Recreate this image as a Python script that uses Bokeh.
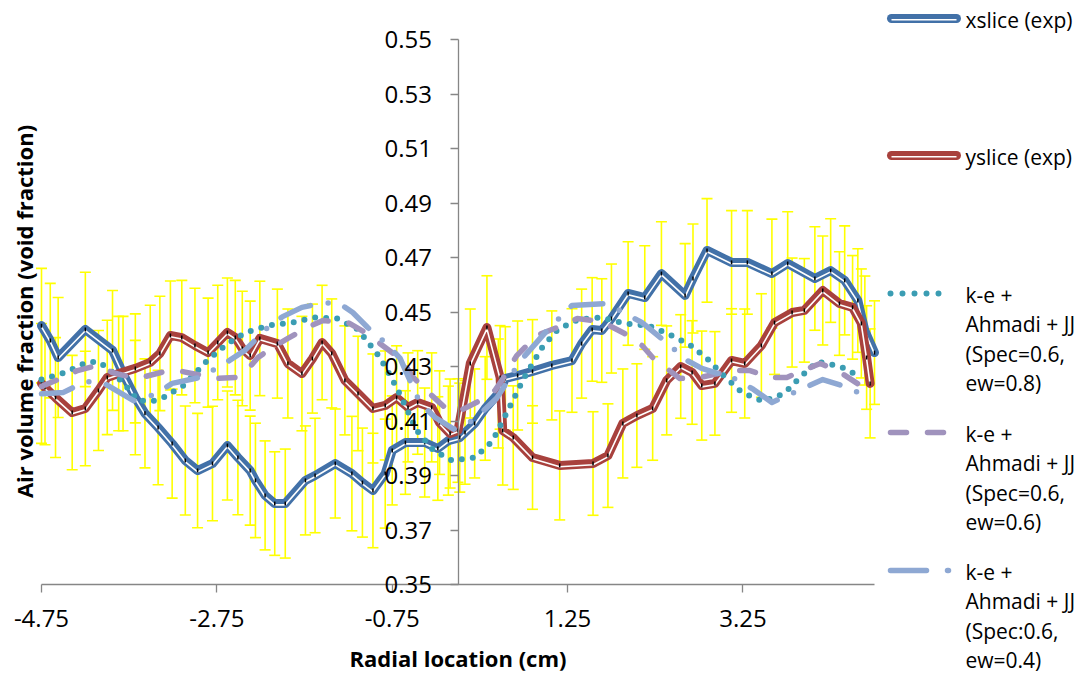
from math import pi
from bokeh.plotting import figure
from bokeh.models import (ColumnDataSource, Whisker, TeeHead, LinearAxis, FixedTicker, Range1d)
from bokeh.embed import file_html
from bokeh.resources import INLINE
from bokeh.core.properties import value

FONT = "Open Sans"

# ---------------- data ----------------
x_ticks = [-4.75, -2.75, -0.75, 1.25, 3.25]
x_tick_labels = ["-4.75", "-2.75", "-0.75", "1.25", "3.25"]
y_ticks = [0.35, 0.37, 0.39, 0.41, 0.43, 0.45, 0.47, 0.49, 0.51, 0.53, 0.55]
y_tick_labels = ["0.35", "0.37", "0.39", "0.41", "0.43", "0.45", "0.47", "0.49", "0.51", "0.53", "0.55"]
x_title = "Radial location (cm)"
y_title = "Air volume fraction (void fraction)"

xslice_x = [-4.75, -4.65, -4.56, -4.25, -3.94, -3.82, -3.68, -3.57, -3.42, -3.26,
            -3.11, -2.97, -2.80, -2.63, -2.51, -2.37, -2.31, -2.20, -2.09, -1.97,
            -1.74, -1.63, -1.40, -1.21, -1.09, -0.97, -0.83, -0.75, -0.60, -0.38,
            -0.23, -0.11, 0.02, 0.08, 0.19, 0.31, 0.46, 0.54, 0.68, 0.85,
            1.07, 1.30, 1.41, 1.53, 1.64, 1.75, 1.94, 2.13, 2.32, 2.59,
            2.68, 2.84, 3.12, 3.30, 3.58, 3.76, 4.07, 4.25, 4.41, 4.56,
            4.64, 4.75]
xslice_y = [0.4450, 0.4395, 0.4333, 0.4436, 0.4359, 0.4274, 0.4186, 0.4128, 0.4076, 0.4017,
            0.3955, 0.3918, 0.3944, 0.4010, 0.3966, 0.3918, 0.3882, 0.3827, 0.3797, 0.3797,
            0.3882, 0.3900, 0.3944, 0.3907, 0.3874, 0.3845, 0.3907, 0.3992, 0.4021, 0.4021,
            0.3999, 0.4028, 0.4039, 0.4058, 0.4091, 0.4146, 0.4201, 0.4256, 0.4267, 0.4282,
            0.4304, 0.4322, 0.4384, 0.4436, 0.4432, 0.4476, 0.4568, 0.4553, 0.4641, 0.4561,
            0.4623, 0.4726, 0.4682, 0.4682, 0.4641, 0.4678, 0.4623, 0.4652, 0.4616, 0.4542,
            0.4432, 0.4351]
xslice_err = [0.021, 0.021, 0.022, 0.021, 0.022, 0.021, 0.021, 0.020, 0.021, 0.020,
              0.020, 0.021, 0.021, 0.020, 0.021, 0.020, 0.021, 0.020, 0.019, 0.020,
              0.020, 0.021, 0.020, 0.021, 0.020, 0.021, 0.020, 0.020, 0.019, 0.020,
              0.019, 0.020, 0.020, 0.019, 0.020, 0.019, 0.020, 0.019, 0.020, 0.019,
              0.020, 0.019, 0.020, 0.019, 0.019, 0.020, 0.019, 0.019, 0.019, 0.019,
              0.020, 0.019, 0.019, 0.019, 0.020, 0.019, 0.019, 0.019, 0.020, 0.019,
              0.020, 0.019]

yslice_x = [-4.75, -4.71, -4.59, -4.40, -4.25, -4.10, -4.00, -3.87, -3.68, -3.51,
            -3.40, -3.28, -3.15, -3.00, -2.85, -2.74, -2.63, -2.54, -2.46, -2.37,
            -2.26, -2.06, -1.94, -1.78, -1.66, -1.55, -1.44, -1.29, -1.14, -0.97,
            -0.83, -0.70, -0.57, -0.46, -0.30, -0.21, -0.09, 0.00, 0.14, 0.33,
            0.48, 0.51, 0.63, 0.85, 1.16, 1.54, 1.71, 1.88, 2.04, 2.22,
            2.38, 2.54, 2.67, 2.78, 2.93, 3.12, 3.27, 3.46, 3.61, 3.81,
            3.95, 4.16, 4.35, 4.50, 4.60, 4.66, 4.70]
yslice_y = [0.4238, 0.4223, 0.4186, 0.4131, 0.4146, 0.4212, 0.4260, 0.4274, 0.4293, 0.4315,
            0.4348, 0.4414, 0.4406, 0.4377, 0.4351, 0.4388, 0.4425, 0.4406, 0.4366, 0.4340,
            0.4403, 0.4384, 0.4311, 0.4274, 0.4329, 0.4388, 0.4348, 0.4249, 0.4201, 0.4146,
            0.4157, 0.4186, 0.4150, 0.4168, 0.4150, 0.4094, 0.4054, 0.4065, 0.4311, 0.4443,
            0.4260, 0.4065, 0.4039, 0.3966, 0.3937, 0.3944, 0.3973, 0.4091, 0.4120, 0.4146,
            0.4249, 0.4300, 0.4278, 0.4230, 0.4238, 0.4322, 0.4311, 0.4377, 0.4461, 0.4498,
            0.4506, 0.4579, 0.4531, 0.4517, 0.4458, 0.4333, 0.4238]
yslice_err = [0.022, 0.021, 0.022, 0.021, 0.021, 0.022, 0.021, 0.021, 0.020, 0.021,
              0.021, 0.020, 0.021, 0.021, 0.020, 0.021, 0.020, 0.021, 0.021, 0.020,
              0.021, 0.020, 0.020, 0.021, 0.020, 0.021, 0.020, 0.020, 0.021, 0.020,
              0.020, 0.019, 0.020, 0.019, 0.020, 0.019, 0.020, 0.019, 0.020, 0.019,
              0.019, 0.020, 0.019, 0.019, 0.020, 0.019, 0.019, 0.020, 0.019, 0.019,
              0.020, 0.019, 0.019, 0.020, 0.019, 0.019, 0.020, 0.019, 0.019, 0.020,
              0.019, 0.020, 0.019, 0.019, 0.020, 0.019, 0.020]

ew08_x = [-4.75, -4.48, -4.24, -4.11, -4.00, -3.81, -3.65, -3.49, -3.36, -3.13,
          -2.86, -2.63, -2.42, -2.17, -1.89, -1.63, -1.38, -1.14, -0.89, -0.70,
          -0.47, -0.28, -0.07, 0.19, 0.39, 0.57, 0.75, 0.96, 1.14, 1.37,
          1.64, 1.89, 2.17, 2.39, 2.64, 2.85, 3.04, 3.24, 3.48, 3.72,
          3.91, 4.10, 4.36, 4.60]
ew08_y = [0.4252, 0.4278, 0.4315, 0.4318, 0.4296, 0.4238, 0.4175, 0.4172, 0.4186, 0.4230,
          0.4322, 0.4384, 0.4425, 0.4450, 0.4461, 0.4480, 0.4476, 0.4436, 0.4333, 0.4223,
          0.4065, 0.3992, 0.3955, 0.3966, 0.4025, 0.4139, 0.4256, 0.4370, 0.4436, 0.4472,
          0.4480, 0.4458, 0.4450, 0.4421, 0.4381, 0.4326, 0.4263, 0.4205, 0.4172, 0.4201,
          0.4263, 0.4318, 0.4300, 0.4260]

ew06_x = [-4.75, -4.50, -4.34, -4.11, -3.94, -3.76, -3.57, -3.34, -3.15, -2.92,
          -2.77, -2.54, -2.39, -2.28, -2.12, -1.94, -1.74, -1.54, -1.25, -1.06,
          -0.74, -0.64, -0.51, -0.30, -0.15, 0.00, 0.10, 0.25, 0.42, 0.50,
          0.67, 0.90, 1.13, 1.36, 1.54, 1.68, 1.90, 2.10, 2.22, 2.38,
          2.53, 2.76, 3.13, 3.33, 3.56, 3.75, 3.93, 4.13, 4.33, 4.50,
          4.64]
ew06_y = [0.4227, 0.4260, 0.4285, 0.4304, 0.4278, 0.4263, 0.4263, 0.4282, 0.4282, 0.4267,
          0.4256, 0.4260, 0.4293, 0.4333, 0.4370, 0.4403, 0.4440, 0.4469, 0.4461, 0.4425,
          0.4348, 0.4322, 0.4260, 0.4194, 0.4150, 0.4135, 0.4150, 0.4175, 0.4212, 0.4249,
          0.4340, 0.4414, 0.4443, 0.4476, 0.4469, 0.4458, 0.4421, 0.4377, 0.4333, 0.4293,
          0.4256, 0.4260, 0.4285, 0.4285, 0.4260, 0.4260, 0.4285, 0.4311, 0.4285, 0.4249,
          0.4220]

ew04_x = [-4.75, -4.50, -4.25, -4.05, -3.70, -3.46, -3.26, -2.94, -2.68, -2.43,
          -2.17, -2.00, -1.78, -1.57, -1.37, -1.20, -1.03, -0.83, -0.66, -0.43,
          -0.26, -0.05, 0.17, 0.44, 0.71, 1.01, 1.30, 1.68, 1.89, 2.10,
          2.42, 2.59, 2.78, 3.18, 3.37, 3.58, 3.93, 4.16, 4.38, 4.64]
ew04_y = [0.4200, 0.4205, 0.4245, 0.4241, 0.4175, 0.4197, 0.4238, 0.4260, 0.4307, 0.4359,
          0.4443, 0.4483, 0.4517, 0.4531, 0.4535, 0.4498, 0.4443, 0.4388, 0.4330, 0.4164,
          0.4113, 0.4070, 0.4102, 0.4183, 0.4320, 0.4430, 0.4524, 0.4531, 0.4498, 0.4461,
          0.4377, 0.4326, 0.4293, 0.4252, 0.4216, 0.4168, 0.4219, 0.4252, 0.4230, 0.4194]

legend_names = [["xslice (exp)"], ["yslice (exp)"],
                ["k-e +", "Ahmadi + JJ", "(Spec=0.6,", "ew=0.8)"],
                ["k-e +", "Ahmadi + JJ", "(Spec=0.6,", "ew=0.6)"],
                ["k-e +", "Ahmadi + JJ", "(Spec:0.6,", "ew=0.4)"]]

# ---------------- styles / layout ----------------
C_X = "#4271A8"
C_Y = "#A8413D"
C_08 = "#3B9DB3"
C_06 = "#A093BD"
C_04 = "#8EA8D3"
C_ERR = "#FFFF00"
C_AX = "#868686"

W, H = 1082, 675
FL, FR, FT, FB = 41, 874, 39, 584          # plot-area edges in page pixels
XB = (-4.75, 4.75)                         # axis extents
YB = (0.35, 0.55)
sx = (FR - FL) / (XB[1] - XB[0])
sy = (FB - FT) / (YB[1] - YB[0])


def px_x(px):   # page pixel -> data x
    return XB[0] + (px - FL) / sx


def px_y(py):   # page pixel -> data y
    return YB[0] + (FB - py) / sy


# the frame covers the whole canvas; axes are fixed at their data positions
p = figure(width=W, height=H, x_range=Range1d(px_x(0), px_x(W)), y_range=Range1d(px_y(H), px_y(0)),
           output_backend="svg", toolbar_location=None,
           x_axis_location=None, y_axis_location=None, min_border=0)
p.outline_line_color = None
for g in p.grid:
    g.visible = False

xaxis = LinearAxis(ticker=FixedTicker(ticks=x_ticks),
                   major_label_overrides=dict(zip(x_ticks, x_tick_labels)),
                   fixed_location=YB[0], bounds=XB)
yaxis = LinearAxis(ticker=FixedTicker(ticks=y_ticks),
                   major_label_overrides=dict(zip(y_ticks, y_tick_labels)),
                   fixed_location=0, bounds=YB)
for ax in (xaxis, yaxis):
    ax.axis_line_color = C_AX
    ax.axis_line_width = 1.3
    ax.major_tick_line_color = C_AX
    ax.major_tick_line_width = 1.3
    ax.major_tick_out = 8
    ax.major_tick_in = 0
    ax.minor_tick_line_color = None
    ax.major_label_text_font = FONT
    ax.major_label_text_font_size = "24px"
    ax.major_label_text_color = "black"
xaxis.major_label_standoff = 17
yaxis.major_label_standoff = 18
p.add_layout(xaxis, "below")
p.add_layout(yaxis, "left")

# axis titles
p.text(x=[0], y=[px_y(657)], text=[x_title], text_font=value(FONT), text_font_size="22px",
       text_font_style="bold", text_align="center", text_baseline="middle", text_color="black")
p.text(x=[px_x(23)], y=[px_y(311)], text=[y_title], angle=pi / 2, text_font=value(FONT),
       text_font_size="22px", text_font_style="bold", text_align="center", text_baseline="middle",
       text_color="black")

# error bars
for xs, ys, es in ((xslice_x, xslice_y, xslice_err), (yslice_x, yslice_y, yslice_err)):
    src = ColumnDataSource(dict(x=xs, lower=[a - b for a, b in zip(ys, es)],
                                upper=[a + b for a, b in zip(ys, es)]))
    p.add_layout(Whisker(source=src, base="x", lower="lower", upper="upper", level="underlay",
                         line_color=C_ERR, line_width=1.6,
                         upper_head=TeeHead(size=11, line_color=C_ERR, line_width=1.6),
                         lower_head=TeeHead(size=11, line_color=C_ERR, line_width=1.6)))

# experimental series: thick line with a thin white stripe and small point markers
stripe = 1.3 / sy
for xs, ys, c in ((xslice_x, xslice_y, C_X), (yslice_x, yslice_y, C_Y)):
    p.line(xs, ys, line_color=c, line_width=9, line_join="round", line_cap="round")
    p.line(xs, [v - stripe for v in ys], line_color="white", line_width=1.6, line_join="round")
    p.scatter(xs, ys, marker="dash", angle=pi / 2, size=4, line_color="black", line_width=1.5)

# model series
p.line(ew08_x, ew08_y, line_color=C_08, line_width=6, line_cap="round", line_join="round",
       line_dash="0 11")
p.line(ew06_x, ew06_y, line_color=C_06, line_width=5.5, line_cap="round", line_join="round",
       line_dash="16 21")
p.line(ew04_x, ew04_y, line_color=C_04, line_width=5.5, line_cap="round", line_join="round",
       line_dash="32 18 0 18")

# ---------------- legend (right of the plot area) ----------------
row_y = [18, 155, 293, 432, 570]
samples = [
    dict(x0=891, x1=956, line_color=C_X, line_width=9, line_cap="round"),
    dict(x0=891, x1=956, line_color=C_Y, line_width=9, line_cap="round"),
    dict(x0=890, x1=950, line_color=C_08, line_width=6, line_cap="round", line_dash="0 12"),
    dict(x0=890, x1=944, line_color=C_06, line_width=5.5, line_cap="round", line_dash="16 21"),
    dict(x0=890, x1=948, line_color=C_04, line_width=5.5, line_cap="round", line_dash="36 21"),
]
for k, s in enumerate(samples):
    s = dict(s)
    x0, x1 = s.pop("x0"), s.pop("x1")
    yy = px_y(row_y[k])
    p.line([px_x(x0), px_x(x1)], [yy, yy], **s)
    if k < 2:
        p.line([px_x(x0), px_x(x1)], [yy - stripe, yy - stripe], line_color="white", line_width=1.6)

lt, lx, ly = [], [], []
for k, names in enumerate(legend_names):
    for j, name in enumerate(names):
        lt.append(name)
        lx.append(px_x(965))
        ly.append(px_y(row_y[k] + 1 + j * 29.5))
p.text(x=lx, y=ly, text=lt, text_font=value(FONT), text_font_size="21px", text_align="left",
       text_baseline="middle", text_color="black")

open("out.html", "w").write(file_html(p, INLINE))
